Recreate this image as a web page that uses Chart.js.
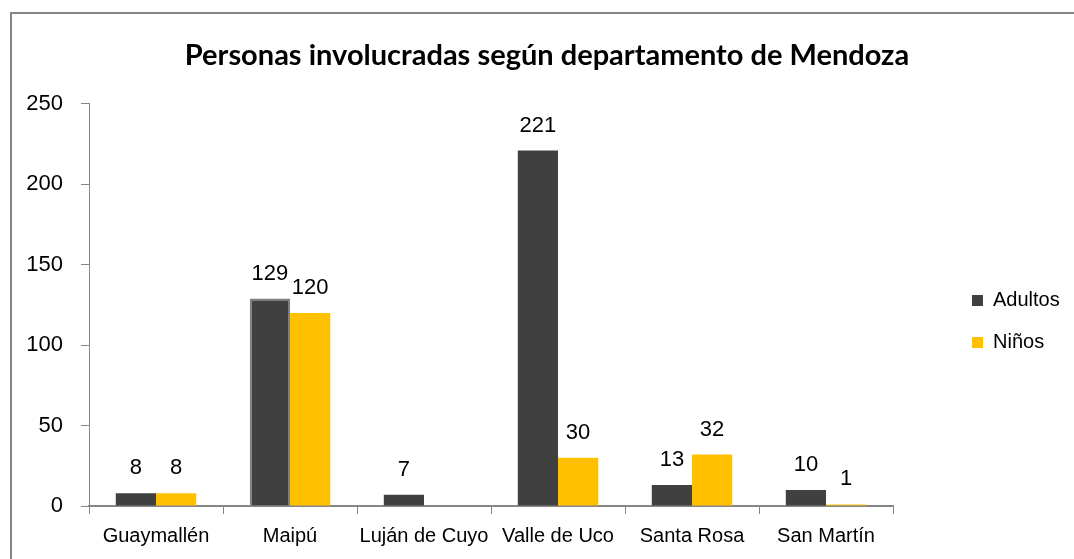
<!DOCTYPE html>
<html>
<head>
<meta charset="utf-8">
<script src="https://cdn.jsdelivr.net/npm/chart.js@4.4.1/dist/chart.umd.min.js"></script>
<style>
  html, body { margin: 0; padding: 0; background: #fff; }
  #wrap { position: relative; width: 1074px; height: 559px; overflow: hidden; }
  #frame { position: absolute; left: 10px; top: 12px; width: 1200px; height: 700px;
           border-left: 2px solid #868686; border-top: 2px solid #868686; }
  #chart { position: absolute; left: 0; top: 0; }
</style>
</head>
<body>
<div id="wrap">
  <div id="frame"></div>
  <canvas id="chart" width="1074" height="559"></canvas>
</div>
<script>
const departamentos = ['Guaymallén', 'Maipú', 'Luján de Cuyo', 'Valle de Uco', 'Santa Rosa', 'San Martín'];
const adultos = [8, 129, 7, 221, 13, 10];
const ninos = [8, 120, null, 30, 32, 1];
const yTicks = [0, 50, 100, 150, 200, 250];

const numFont = { family: '"Liberation Sans", Arial, sans-serif', size: 22 };
const txtFont = { family: '"Liberation Sans", Arial, sans-serif', size: 20 };

// value labels above each bar
const barLabels = {
    id: 'barLabels',
    afterDatasetsDraw(chart) {
        const ctx = chart.ctx;
        ctx.save();
        ctx.font = numFont.size + 'px ' + numFont.family;
        ctx.fillStyle = '#000';
        ctx.textAlign = 'center';
        ctx.textBaseline = 'middle';
        chart.data.datasets.forEach(function(ds, i) {
            chart.getDatasetMeta(i).data.forEach(function(bar, j) {
                const v = ds.data[j];
                if (v === null || v === undefined) return;
                ctx.fillText(String(v), bar.x, bar.y - 25);
            });
        });
        ctx.restore();
    }
};

// keep the legend off to the right, away from the plot; nudge the title
const legendPlace = {
    id: 'legendPlace',
    beforeInit(chart) {
        const fit = chart.legend.fit;
        chart.legend.fit = function() {
            fit.call(this);
            this.width = 181;
        };
    },
    afterLayout(chart) {
        const lg = chart.legend;
        const dx = 950 - lg.left;
        const dy = 42;
        lg.left += dx;
        lg.right += dx;
        lg.top += dy;
        lg.bottom += dy;
        const tb = chart.titleBlock;
        tb.left += 10;
        tb.right += 10;
    }
};

const ctx = document.getElementById('chart');
new Chart(ctx, {
    type: 'bar',
    data: {
        labels: departamentos,
        datasets: [{
            label: 'Adultos',
            data: adultos,
            backgroundColor: '#404040',
            borderColor: '#7f7f7f',
            borderWidth: [0, 2, 0, 0, 0, 0]
        }, {
            label: 'Niños',
            data: ninos,
            backgroundColor: '#FFC000'
        }]
    },
    options: {
        responsive: false,
        animation: false,
        layout: { padding: { left: 0, right: 0, top: 0, bottom: 0 } },
        datasets: {
            bar: { categoryPercentage: 0.6, barPercentage: 1.0 }
        },
        scales: {
            x: {
                grid: {
                    offset: true,
                    drawOnChartArea: false,
                    drawTicks: true,
                    tickLength: 8,
                    color: '#868686'
                },
                border: { color: '#868686', width: 2 },
                ticks: { color: '#000', font: txtFont, padding: 10, maxRotation: 0 },
                afterFit(scale) { scale.height = 53; }
            },
            y: {
                min: 0,
                max: 250,
                afterBuildTicks(scale) {
                    scale.ticks = yTicks.map(v => ({ value: v }));
                },
                grid: {
                    drawOnChartArea: false,
                    drawTicks: true,
                    tickLength: 8,
                    color: '#868686'
                },
                border: { color: '#868686', width: 1 },
                ticks: { color: '#000', font: numFont, padding: 18 },
                afterFit(scale) { scale.width = 89; }
            }
        },
        plugins: {
            title: {
                display: true,
                text: 'Personas involucradas según departamento de Mendoza',
                color: '#000',
                font: { family: 'Lato, "Liberation Sans", sans-serif', size: 29, weight: 'bold' },
                padding: { top: 38, bottom: 31 }
            },
            legend: {
                position: 'right',
                align: 'center',
                labels: {
                    color: '#000',
                    font: txtFont,
                    boxWidth: 11,
                    boxHeight: 11,
                    padding: 22
                }
            },
            tooltip: { enabled: false }
        }
    },
    plugins: [barLabels, legendPlace]
});
</script>
</body>
</html>
